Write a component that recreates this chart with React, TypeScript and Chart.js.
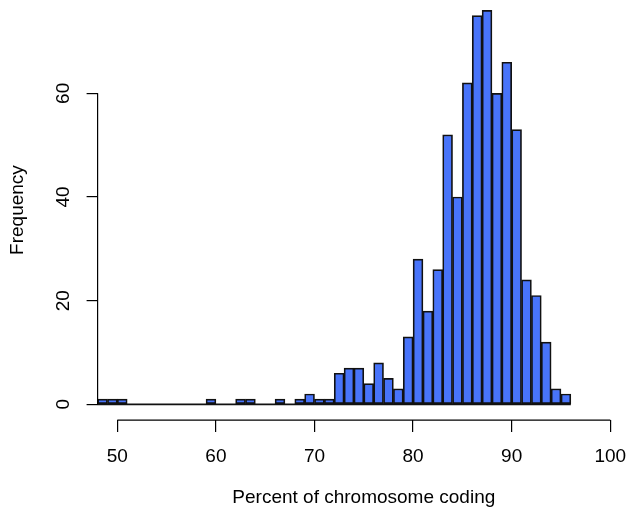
import React, { useEffect, useRef } from "react";
import { Chart, registerables } from "chart.js";

Chart.register(...registerables);

// Histogram breaks (bin edges, width 1) and the counts in each bin
const breaks = [
  48, 49, 50, 51, 52, 53, 54, 55, 56, 57, 58, 59, 60, 61, 62, 63, 64, 65, 66, 67,
  68, 69, 70, 71, 72, 73, 74, 75, 76, 77, 78, 79, 80, 81, 82, 83, 84, 85, 86, 87,
  88, 89, 90, 91, 92, 93, 94, 95, 96,
];
const counts = [
  1, 1, 1, 0, 0, 0, 0, 0, 0, 0, 0, 1, 0, 0, 1, 1, 0, 0, 1, 0,
  1, 2, 1, 1, 6, 7, 7, 4, 8, 5, 3, 13, 28, 18, 26, 52, 40, 62, 75, 76,
  60, 66, 53, 24, 21, 12, 3, 2,
];

const xTicks = [50, 60, 70, 80, 90, 100];
const yTicks = [0, 20, 40, 60];

const xLabel = "Percent of chromosome coding";
const yLabel = "Frequency";

const FONT = "'Liberation Sans', Arial, Helvetica, sans-serif";
const BAR_FILL = "rgb(72, 116, 250)";
const INK = "#111111";

// Axis lines span only the first to last tick, like base graphics axes
const axisLines = {
  id: "axisLines",
  afterDraw(chart: any) {
    const { ctx, chartArea, scales } = chart;
    const x = scales.x;
    const y = scales.y;
    ctx.save();
    ctx.strokeStyle = "#000";
    ctx.lineWidth = 1.2;
    ctx.beginPath();
    ctx.moveTo(x.getPixelForValue(xTicks[0]), chartArea.bottom);
    ctx.lineTo(x.getPixelForValue(xTicks[xTicks.length - 1]), chartArea.bottom);
    ctx.moveTo(chartArea.left, y.getPixelForValue(yTicks[0]));
    ctx.lineTo(chartArea.left, y.getPixelForValue(yTicks[yTicks.length - 1]));
    ctx.stroke();
    ctx.restore();
  },
};

export default function App() {
  const canvasRef = useRef<HTMLCanvasElement | null>(null);

  useEffect(() => {
    const canvas = canvasRef.current;
    if (!canvas) return;

    const bars = counts.map((c, i) => ({
      x: (breaks[i] + breaks[i + 1]) / 2,
      y: c,
    }));
    const baseline = [
      { x: breaks[0], y: 0 },
      { x: breaks[breaks.length - 1], y: 0 },
    ];

    const chart = new Chart(canvas, {
      type: "bar",
      data: {
        datasets: [
          {
            type: "line",
            data: baseline,
            borderColor: INK,
            borderWidth: 1.6,
            pointRadius: 0,
            order: 2,
          } as any,
          {
            type: "bar",
            data: bars,
            backgroundColor: BAR_FILL,
            borderColor: INK,
            borderWidth: 1.7,
            borderSkipped: false,
            barPercentage: 1,
            categoryPercentage: 1,
            order: 1,
          } as any,
        ],
      },
      options: {
        responsive: false,
        animation: false,
        devicePixelRatio: 1,
        events: [],
        layout: { padding: { top: 0, right: 0, bottom: 0, left: 0 } },
        plugins: {
          legend: { display: false },
          tooltip: { enabled: false },
        },
        scales: {
          x: {
            type: "linear",
            position: "bottom",
            min: 48,
            max: 102,
            offset: false,
            afterBuildTicks: (scale: any) => {
              scale.ticks = xTicks.map((v) => ({ value: v }));
            },
            afterFit: (scale: any) => {
              scale.height = 94.9;
              scale.paddingLeft = 0;
              scale.paddingRight = 0;
            },
            border: { display: false },
            grid: {
              offset: false,
              drawOnChartArea: false,
              drawTicks: true,
              tickLength: 12,
              color: "#000",
              lineWidth: 1.2,
            },
            ticks: {
              autoSkip: false,
              maxRotation: 0,
              minRotation: 0,
              padding: 13,
              color: "#000",
              font: { family: FONT, size: 19 },
              callback: (v: any) => String(v),
            },
            title: {
              display: true,
              text: xLabel,
              color: "#000",
              font: { family: FONT, size: 19 },
              padding: { top: 0, bottom: 6 },
            },
          },
          y: {
            type: "linear",
            min: -3.04,
            max: 78,
            afterBuildTicks: (scale: any) => {
              scale.ticks = yTicks.map((v) => ({ value: v }));
            },
            afterFit: (scale: any) => {
              scale.width = 97.6;
              scale.paddingTop = 0;
              scale.paddingBottom = 0;
            },
            border: { display: false },
            grid: {
              drawOnChartArea: false,
              drawTicks: true,
              tickLength: 11,
              color: "#000",
              lineWidth: 1.2,
            },
            ticks: {
              autoSkip: false,
              minRotation: 90,
              maxRotation: 90,
              crossAlign: "center",
              padding: 12,
              color: "#000",
              font: { family: FONT, size: 19 },
              callback: (v: any) => String(v),
            },
            title: {
              display: true,
              text: yLabel,
              color: "#000",
              font: { family: FONT, size: 19 },
              padding: { top: 6, bottom: 0 },
            },
          },
        },
      },
      plugins: [axisLines],
    });

    return () => chart.destroy();
  }, []);

  return (
    <div style={{ position: "absolute", left: 0, top: 0, width: 630, height: 515, background: "#fff" }}>
      <canvas ref={canvasRef} width={630} height={515} style={{ display: "block" }} />
    </div>
  );
}
